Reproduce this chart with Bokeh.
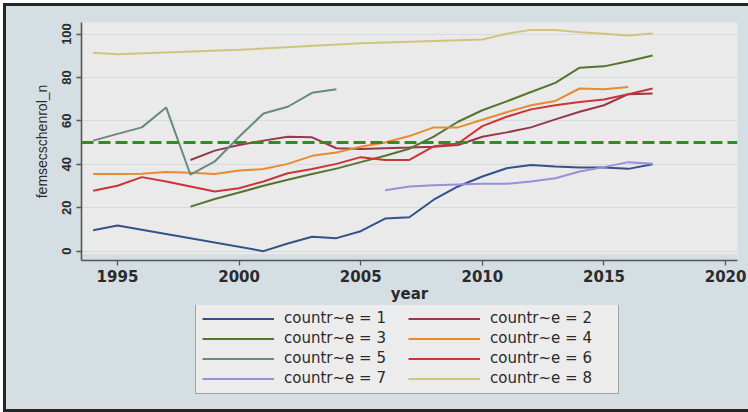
from bokeh.plotting import figure
from bokeh.layouts import column
from bokeh.models import Legend, LegendItem, Span, BoxAnnotation, FixedTicker
from bokeh.embed import file_html
from bokeh.resources import INLINE

# female secondary school enrolment by country code, per year
years_1 = [1994, 1995, 2001, 2002, 2003, 2004, 2005, 2006, 2007, 2008, 2009,
           2010, 2011, 2012, 2013, 2014, 2015, 2016, 2017]
vals_1 = [9.6, 11.8, 0.0, 3.5, 6.6, 6.0, 9.2, 15.0, 15.6, 23.7, 29.8,
          34.4, 38.2, 39.7, 39.0, 38.5, 38.5, 37.9, 40.0]

years_2 = list(range(1998, 2018))
vals_2 = [42.0, 46.3, 48.9, 50.9, 52.7, 52.4, 47.4, 47.1, 47.4, 47.7,
          48.1, 48.9, 52.7, 54.7, 57.0, 60.7, 64.2, 67.2, 72.3, 72.6]

years_3 = list(range(1998, 2018))
vals_3 = [20.5, 24.0, 27.0, 30.1, 32.9, 35.5, 38.0, 41.0, 43.9, 47.2,
          52.7, 59.6, 64.9, 69.0, 73.3, 77.5, 84.5, 85.1, 87.5, 90.1]

years_4 = list(range(1994, 2017))
vals_4 = [35.5, 35.5, 35.6, 36.4, 36.1, 35.5, 37.1, 37.8, 40.2, 43.9, 45.4,
          48.1, 50.0, 53.0, 57.0, 57.0, 60.5, 64.0, 67.2, 69.2, 74.9, 74.6, 75.6]

years_5 = list(range(1994, 2005))
vals_5 = [50.9, 54.0, 57.0, 66.2, 35.2, 41.3, 52.7, 63.4, 66.5, 72.9, 74.6]

years_6 = list(range(1994, 2018))
vals_6 = [27.8, 30.1, 34.1, 32.1, 29.8, 27.5, 29.0, 32.1, 35.9, 37.8, 40.2, 43.3,
          42.0, 42.0, 48.3, 49.6, 57.6, 61.9, 65.3, 67.2, 68.7, 69.8, 72.3, 74.9]

years_7 = list(range(2006, 2018))
vals_7 = [28.0, 29.8, 30.3, 30.7, 31.0, 31.0, 32.1, 33.6, 36.7, 38.7, 41.0, 40.2]

years_8 = [1994, 1995, 2000, 2005, 2010, 2011, 2012, 2013, 2014, 2015, 2016, 2017]
vals_8 = [91.4, 90.7, 92.7, 95.8, 97.5, 100.1, 101.9, 101.8, 100.8, 100.1, 99.3, 100.2]

series_labels = ["countr~e = 1", "countr~e = 2", "countr~e = 3", "countr~e = 4",
                 "countr~e = 5", "countr~e = 6", "countr~e = 7", "countr~e = 8"]
series_colors = ["#34528a", "#96384a", "#55752f", "#e98a2f",
                 "#668a80", "#cc3438", "#988fd8", "#cfc47c"]

x_ticks = [1995, 2000, 2005, 2010, 2015, 2020]
y_ticks = [0, 20, 40, 60, 80, 100]
reference_level = 50

OUTER_BG = "#d5dee2"
PLOT_BG = "#eaeaea"
FRAME = "#262626"
TEXT = "#2a2a2a"

all_years = [years_1, years_2, years_3, years_4, years_5, years_6, years_7, years_8]
all_vals = [vals_1, vals_2, vals_3, vals_4, vals_5, vals_6, vals_7, vals_8]

# ---- main chart -------------------------------------------------------------
p = figure(width=742, height=299, output_backend="svg",
           toolbar_location=None,
           x_range=(1993.52, 2020.49), y_range=(-4.3, 105.3),
           min_border_left=75, min_border_top=16, min_border_right=11,
           min_border_bottom=44)

p.background_fill_color = PLOT_BG
p.border_fill_color = OUTER_BG
p.outline_line_color = None

# gap between plot region and the x axis
p.add_layout(BoxAnnotation(top=-1.4, fill_color=OUTER_BG, fill_alpha=1.0,
                           line_alpha=0, level="underlay"))

p.xgrid.visible = False
p.ygrid.ticker = FixedTicker(ticks=y_ticks)
p.ygrid.grid_line_color = "#d6dcdc"
p.ygrid.grid_line_width = 1.2

p.xaxis.ticker = FixedTicker(ticks=x_ticks)
p.yaxis.ticker = FixedTicker(ticks=y_ticks)
for ax in (p.xaxis[0], p.yaxis[0]):
    ax.axis_line_color = "#555555"
    ax.axis_line_width = 1.6
    ax.major_tick_line_color = "#555555"
    ax.major_tick_line_width = 1.3
    ax.major_tick_out = 5
    ax.major_tick_in = 0
    ax.minor_tick_line_color = None
    ax.major_label_text_color = TEXT

p.xaxis.major_label_text_font = "DejaVu Sans"
p.xaxis.major_label_text_font_style = "bold"
p.xaxis.major_label_text_font_size = "15px"
p.xaxis.major_label_standoff = 4
p.xaxis.axis_label = "year"
p.xaxis.axis_label_text_font = "DejaVu Sans"
p.xaxis.axis_label_text_font_style = "bold"
p.xaxis.axis_label_text_font_size = "15px"
p.xaxis.axis_label_text_color = TEXT
p.xaxis.axis_label_standoff = 0

p.yaxis.major_label_orientation = "vertical"
p.yaxis.major_label_text_font = "Liberation Sans"
p.yaxis.major_label_text_font_style = "bold"
p.yaxis.major_label_text_font_size = "13px"
p.yaxis.major_label_standoff = 5
p.yaxis.axis_label = "femsecschenrol_n"
p.yaxis.axis_label_text_font = "Liberation Sans"
p.yaxis.axis_label_text_font_style = "normal"
p.yaxis.axis_label_text_font_size = "14px"
p.yaxis.axis_label_text_color = TEXT
p.yaxis.axis_label_standoff = 10

for yrs, vals, col in zip(all_years, all_vals, series_colors):
    p.line(yrs, vals, line_color=col, line_width=2)

p.add_layout(Span(location=reference_level, dimension="width",
                  line_color="#2e8b2e", line_width=3, line_dash="12 5"))

# ---- legend strip under the chart -------------------------------------------
# same series drawn again, outside this strip's visible range, as legend keys
LEG_H = 104
lg = figure(width=742, height=LEG_H, output_backend="svg", toolbar_location=None,
            x_axis_type=None, y_axis_type=None, x_range=(0, 1), y_range=(0, 1),
            min_border=0)
lg.background_fill_color = OUTER_BG
lg.border_fill_color = OUTER_BG
lg.outline_line_color = None
lg.grid.visible = False

keys = [lg.line(yrs, vals, line_color=col, line_width=2)
        for yrs, vals, col in zip(all_years, all_vals, series_colors)]
items = [LegendItem(label=lab, renderers=[r]) for lab, r in zip(series_labels, keys)]
legend = Legend(items=items, ncols=2, location=(114, 15),
                orientation="horizontal",
                label_text_font="DejaVu Sans", label_text_font_size="15px",
                label_text_color=TEXT, label_height=15, label_width=122,
                glyph_height=15, glyph_width=72, label_standoff=10,
                spacing=2, padding=6, margin=0,
                background_fill_color="#ececec", background_fill_alpha=1.0,
                border_line_color="#555555", border_line_width=1.5)
lg.add_layout(legend, "center")

page = column(p, lg, spacing=0)
page.styles = {"margin-left": "3px", "margin-top": "3px",
               "background-color": OUTER_BG,
               "border-left": f"3px solid {FRAME}",
               "border-top": f"3px solid {FRAME}",
               "border-bottom": f"3px solid {FRAME}"}

open("out.html", "w").write(file_html(page, INLINE))
